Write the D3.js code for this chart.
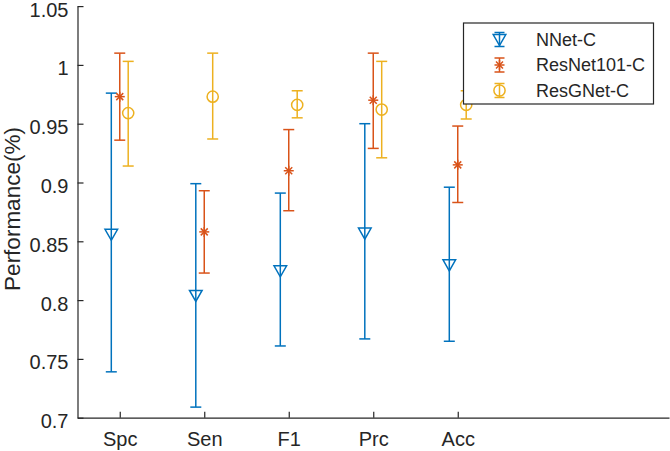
<!DOCTYPE html>
<html><head><meta charset="utf-8">
<script src="https://cdn.jsdelivr.net/npm/d3@7"></script>
<style>body{margin:0;background:#fff}svg{display:block}text{font-family:"Liberation Sans",Arial,sans-serif;fill:#262626}</style>
</head><body><svg id="c" width="670" height="451"></svg>
<script>
const categories = ["Spc","Sen","F1","Prc","Acc"];
const seriesNames = ["NNet-C","ResNet101-C","ResGNet-C"];
const nnetMean = [0.856,0.804,0.825,0.857,0.830];
const nnetLow  = [0.739,0.709,0.761,0.767,0.765];
const nnetHigh = [0.976,0.899,0.891,0.950,0.896];
const resMean  = [0.973,0.858,0.910,0.970,0.915];
const resLow   = [0.936,0.823,0.876,0.929,0.883];
const resHigh  = [1.010,0.893,0.945,1.010,0.948];
const rgMean   = [0.959,0.973,0.966,0.962,0.966];
const rgLow    = [0.914,0.937,0.955,0.921,0.954];
const rgHigh   = [1.003,1.010,0.978,1.003,0.978];
const yTicks = [0.7,0.75,0.8,0.85,0.9,0.95,1,1.05];
const colors = ["#0072BD","#D95319","#EDB120"];
const offsets = [-0.1,0,0.1];

const series = [
  {name:seriesNames[0], mean:nnetMean, low:nnetLow, high:nnetHigh, marker:"tri"},
  {name:seriesNames[1], mean:resMean, low:resLow, high:resHigh, marker:"star"},
  {name:seriesNames[2], mean:rgMean, low:rgLow, high:rgHigh, marker:"circ"}
];

const svg = d3.select("#c");
const x = d3.scaleLinear().domain([0.5,7.5]).range([77.5,669]);
const y = d3.scaleLinear().domain([0.7,1.05]).range([417.7,6.1]);
const axisCol = "#262626";

// axes
const gx = svg.append("g").attr("transform",`translate(0,${y(0.7)})`)
  .call(d3.axisBottom(x).tickValues(categories.map((c,i)=>i+1)).tickFormat((d)=>categories[d-1]).tickSizeInner(-6).tickSizeOuter(0).tickPadding(14));
const gy = svg.append("g").attr("transform",`translate(${x(0.5)},0)`)
  .call(d3.axisLeft(y).tickValues(yTicks).tickFormat(d3.format("")).tickSizeInner(-6).tickSizeOuter(0).tickPadding(9));
[gx,gy].forEach(g=>{
  g.select(".domain").attr("stroke",axisCol).attr("stroke-width",1.2);
  g.selectAll(".tick line").attr("stroke",axisCol).attr("stroke-width",1.2);
  g.selectAll("text").attr("font-size","20px").attr("fill",axisCol);
});
gy.selectAll("text").attr("dy","0.5em");

svg.append("text").attr("transform",`translate(20,209) rotate(-90)`)
  .attr("text-anchor","middle").attr("font-size","22.5px").text("Performance(%)");

const cap = 5.5;
function drawMarker(g, type, cx, cy, col){
  if(type==="tri"){
    const w=6.3, h=11;
    g.append("path").attr("d",`M${cx-w},${cy-h*0.45}L${cx+w},${cy-h*0.45}L${cx},${cy+h*0.55}Z`)
      .attr("fill","none").attr("stroke",col).attr("stroke-width",1.5);
  } else if(type==="star"){
    const r=5;
    const p = [[0,-r,0,r],[-r,0,r,0],[-r*0.7,-r*0.7,r*0.7,r*0.7],[-r*0.7,r*0.7,r*0.7,-r*0.7]];
    p.forEach(q=>g.append("line").attr("x1",cx+q[0]).attr("y1",cy+q[1]).attr("x2",cx+q[2]).attr("y2",cy+q[3])
      .attr("stroke",col).attr("stroke-width",1.5));
  } else {
    g.append("circle").attr("cx",cx).attr("cy",cy).attr("r",5.6).attr("fill","none").attr("stroke",col).attr("stroke-width",1.5);
  }
}

series.forEach((s,si)=>{
  const g = svg.append("g");
  const col = colors[si];
  categories.forEach((c,i)=>{
    const cx = x(i+1+offsets[si]);
    const y1 = y(s.low[i]), y2 = y(s.high[i]);
    g.append("line").attr("x1",cx).attr("x2",cx).attr("y1",y1).attr("y2",y2).attr("stroke",col).attr("stroke-width",1.5);
    [y1,y2].forEach(yy=>g.append("line").attr("x1",cx-cap).attr("x2",cx+cap).attr("y1",yy).attr("y2",yy).attr("stroke",col).attr("stroke-width",1.5));
    drawMarker(g,s.marker,cx,y(s.mean[i]),col);
  });
});

// legend
const lg = svg.append("g");
lg.append("rect").attr("x",463.5).attr("y",23).attr("width",190).attr("height",81)
  .attr("fill","#fff").attr("stroke",axisCol).attr("stroke-width",1.2);
series.forEach((s,si)=>{
  const cy = 39.5 + si*25.5, cx = 499.5, col = colors[si];
  lg.append("line").attr("x1",cx).attr("x2",cx).attr("y1",cy-7).attr("y2",cy+7).attr("stroke",col).attr("stroke-width",1.5);
  [cy-7,cy+7].forEach(yy=>lg.append("line").attr("x1",cx-5).attr("x2",cx+5).attr("y1",yy).attr("y2",yy).attr("stroke",col).attr("stroke-width",1.5));
  drawMarker(lg,s.marker,cx,cy,col);
  lg.append("text").attr("x",536).attr("y",cy).attr("dy","0.36em").attr("font-size","18px").text(s.name);
});
</script></body></html>
